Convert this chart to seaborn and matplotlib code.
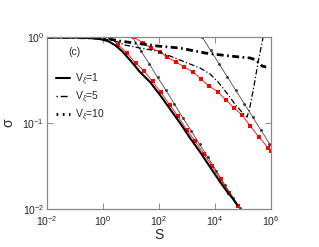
import numpy as np
import pandas as pd
import matplotlib
matplotlib.use("Agg")
import matplotlib.pyplot as plt
from matplotlib.lines import Line2D
import seaborn as sns

# ---- data (log10 S, log10 sigma) ----
v1_logS = [-2.0, -1.0, -0.464, -0.107, 0.179, 0.429, 0.679, 0.964, 1.321, 1.679, 2.036,
           2.393, 2.75, 3.107, 3.464, 3.821, 4.179, 4.464, 4.643, 4.786]
v1_logsig = [-0.006, -0.006, -0.012, -0.023, -0.047, -0.093, -0.163, -0.267, -0.407, -0.523,
             -0.674, -0.837, -1.0, -1.174, -1.337, -1.512, -1.686, -1.814, -1.884, -1.953]

v5_logS = [-2.0, -0.107, 0.25, 0.536, 0.786, 1.321, 1.929, 2.393, 2.929, 3.464, 3.821, 4.107,
           4.393, 4.679, 4.893, 5.036, 5.143, 5.25, 5.393, 5.536, 5.714, 5.786]
v5_logsig = [0.0, -0.012, -0.035, -0.058, -0.093, -0.128, -0.163, -0.221, -0.291, -0.36, -0.43,
             -0.523, -0.64, -0.767, -0.849, -0.907, -0.93, -0.802, -0.558, -0.291, 0.0, 0.105]

v10_logS = [-2.0, -0.107, 0.25, 0.607, 1.143, 1.964, 2.75, 3.643, 4.536, 5.25, 5.464, 5.571,
            5.679, 5.821]
v10_logsig = [0.0, -0.012, -0.023, -0.047, -0.07, -0.105, -0.128, -0.186, -0.221, -0.244,
              -0.267, -0.302, -0.337, -0.349]

red1_logS = [0.25, 0.554, 0.857, 1.161, 1.464, 1.768, 2.071, 2.375, 2.679, 2.982, 3.286,
             3.589, 3.893, 4.196, 4.5, 4.804]
red1_logsig = [0.0, -0.093, -0.186, -0.302, -0.395, -0.517, -0.645, -0.785, -0.924, -1.076,
               -1.209, -1.355, -1.5, -1.657, -1.814, -1.965]

red2_logS = [1.107, 1.429, 1.714, 2.036, 2.286, 2.607, 2.893, 3.214, 3.5, 3.786, 4.107, 4.393,
             4.679, 4.964, 5.25, 5.571, 5.893, 6.0]
red2_logsig = [0.0, -0.07, -0.128, -0.174, -0.233, -0.291, -0.349, -0.407, -0.488, -0.57,
               -0.64, -0.733, -0.826, -0.907, -1.035, -1.163, -1.291, -1.326]

fit1_logS = [0.95, 1.05, 1.35, 1.65, 1.95, 2.25, 2.55, 2.85, 3.15, 3.45, 3.75, 4.05, 4.35,
             4.65, 4.88]
fit1_logsig = [0.05, 0.0, -0.16, -0.31, -0.47, -0.62, -0.78, -0.94, -1.09, -1.25, -1.40,
               -1.56, -1.72, -1.87, -1.99]

fit2_logS = [3.44, 3.54, 3.84, 4.14, 4.44, 4.74, 5.04, 5.34, 5.64, 5.94, 6.05]
fit2_logsig = [0.05, 0.0, -0.155, -0.31, -0.465, -0.62, -0.775, -0.93, -1.085, -1.24, -1.30]

labels = ["V$_{\\xi}$=1", "V$_{\\xi}$=5", "V$_{\\xi}$=10"]


def df(lx, ly):
    return pd.DataFrame({"S": 10 ** np.array(lx, float), "sig": 10 ** np.array(ly, float)})


sns.set_style("ticks")
plt.rcParams["font.family"] = ["Liberation Sans", "DejaVu Sans"]
plt.rcParams["lines.scale_dashes"] = False
plt.rcParams["mathtext.fontset"] = "custom"
plt.rcParams["mathtext.rm"] = "Liberation Sans"
plt.rcParams["mathtext.it"] = "Liberation Sans:italic"

fig = plt.figure(figsize=(3.19, 2.47), dpi=100)
ax = fig.add_axes([0.147, 0.154, 0.703, 0.696])

kw = dict(ax=ax, x="S", y="sig", estimator=None, sort=False, legend=False)

# theory / fit curves
sns.lineplot(data=df(fit1_logS, fit1_logsig), color="#3a3a3a", lw=0.55, marker="o",
             markersize=2.1, markeredgewidth=0, **kw)
sns.lineplot(data=df(fit2_logS, fit2_logsig), color="#3a3a3a", lw=0.55, marker="o",
             markersize=2.1, markeredgewidth=0, **kw)
sns.lineplot(data=df(red1_logS, red1_logsig), color="#ff0000", lw=0.6, marker="s",
             markersize=2.4, markeredgewidth=0, **kw)
sns.lineplot(data=df(red2_logS, red2_logsig), color="#ff0000", lw=0.6, marker="s",
             markersize=2.4, markeredgewidth=0, **kw)

# main curves
sns.lineplot(data=df(v10_logS, v10_logsig), color="black", lw=2.0, **kw)
ax.lines[-1].set_dashes((5, 2.5, 1.2, 2.5))
sns.lineplot(data=df(v5_logS, v5_logsig), color="black", lw=0.9, **kw)
ax.lines[-1].set_dashes((4, 1.6, 0.9, 1.6))
sns.lineplot(data=df(v1_logS, v1_logsig), color="black", lw=1.5, **kw)

ax.set_xscale("log")
ax.set_yscale("log")
ax.set_xlim(1e-2, 1e6)
ax.set_ylim(1e-2, 1.0)
ax.set_xticks([1e-2, 1e0, 1e2, 1e4, 1e6])
ax.set_yticks([1e-2, 1e-1, 1e0])
ax.minorticks_off()
ax.tick_params(which="both", direction="in", top=True, right=True, length=4,
               width=0.6, color="#777777", labelsize=7.5)
ax.tick_params(axis="x", pad=4)
ax.tick_params(axis="y", pad=2)
for sp in ax.spines.values():
    sp.set_color("#888888")
    sp.set_linewidth(0.9)

ax.set_xlabel("S", fontsize=10, labelpad=0)
ax.set_ylabel("σ", fontsize=10, labelpad=5)

ax.text(0.095, 0.915, "(c)", transform=ax.transAxes, fontsize=7.5, va="center", ha="left")

handles = [
    Line2D([], [], color="black", lw=1.5),
    Line2D([], [], color="black", lw=1.0, dashes=(1, 2, 5, 2)),
    Line2D([], [], color="black", lw=2.0, dashes=(1.3, 3.2)),
]
ax.legend(handles, labels, loc="upper left", bbox_to_anchor=(0.02, 0.82), frameon=False,
          fontsize=7.5, handlelength=1.4, handletextpad=0.5, labelspacing=0.25,
          borderaxespad=0.0)

fig.savefig("out.png", dpi=100)
